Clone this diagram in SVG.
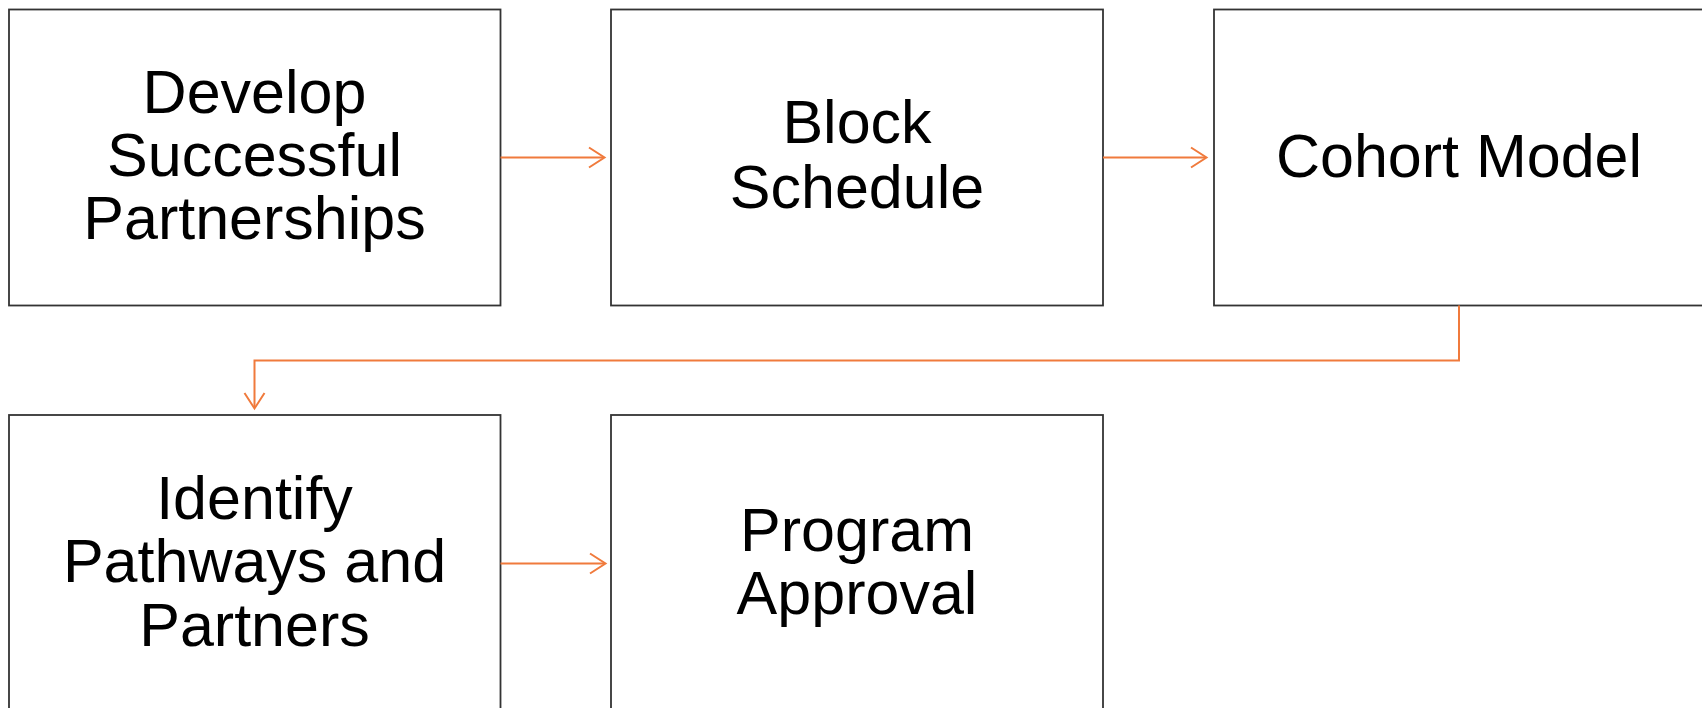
<svg xmlns="http://www.w3.org/2000/svg" width="1702" height="708" viewBox="0 0 1702 708">
<style>
.box{fill:#ffffff;stroke:#333333;stroke-width:1.8}
.lbl{font-family:"Liberation Sans",Arial,sans-serif;font-size:61px;fill:#000;text-anchor:middle}
.conn{fill:none;stroke:#F07A3C;stroke-width:2}
.head{fill:none;stroke:#F07A3C;stroke-width:2;stroke-linejoin:miter}
</style>
<rect width="1702" height="708" fill="#ffffff"/>
<g id="node-develop">
<rect class="box" x="9" y="9.5" width="491.5" height="296"/>
<text class="lbl" x="254.5"><tspan x="254.5" y="113">Develop</tspan><tspan x="254.5" y="176">Successful</tspan><tspan x="254.5" y="239">Partnerships</tspan></text>
</g>
<g id="node-block">
<rect class="box" x="611" y="9.5" width="492" height="296"/>
<text class="lbl"><tspan x="857" y="143">Block</tspan><tspan x="857" y="207.5">Schedule</tspan></text>
</g>
<g id="node-cohort">
<rect class="box" x="1214" y="9.5" width="492" height="296"/>
<text class="lbl" x="1459" y="177">Cohort Model</text>
</g>
<g id="node-identify">
<rect class="box" x="9" y="415" width="491.5" height="296"/>
<text class="lbl"><tspan x="254.5" y="518.5">Identify</tspan><tspan x="254.5" y="582">Pathways and</tspan><tspan x="254.5" y="645.5">Partners</tspan></text>
</g>
<g id="node-approval">
<rect class="box" x="611" y="415" width="492" height="296"/>
<text class="lbl"><tspan x="857" y="550.5">Program</tspan><tspan x="857" y="613.5">Approval</tspan></text>
</g>
<g id="connectors">
<path class="conn" d="M500.5 157.5 H604"/>
<path class="head" d="M589 147.5 L604.5 157.5 L589 167.5"/>
<path class="conn" d="M1103 157.5 H1206"/>
<path class="head" d="M1191 147.5 L1206.5 157.5 L1191 167.5"/>
<path class="conn" d="M1459 305.5 V360.5 H254.5 V408"/>
<path class="head" d="M244.5 393 L254.5 408.5 L264.5 393"/>
<path class="conn" d="M500.5 563.5 H605"/>
<path class="head" d="M590 553.5 L605.5 563.5 L590 573.5"/>
</g>
</svg>
